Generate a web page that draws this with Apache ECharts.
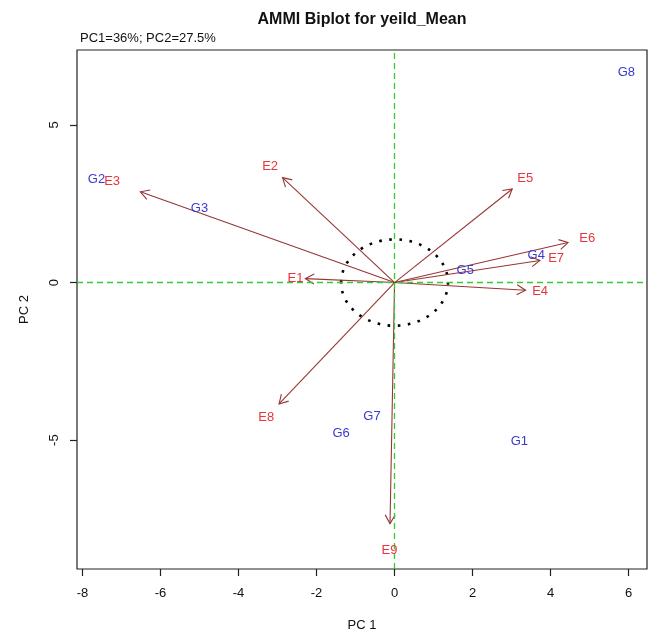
<!DOCTYPE html>
<html><head><meta charset="utf-8">
<script src="https://cdn.jsdelivr.net/npm/echarts@6/dist/echarts.min.js"></script>
<style>html,body{margin:0;padding:0;background:#fff}#c{width:649px;height:637px}</style>
</head><body><div id="c"></div>
<script>
// Environment scores (label positions) on PC1 / PC2
const envNames = ['E1','E2','E3','E4','E5','E6','E7','E8','E9'];
const envPC1 = [-2.54, -3.19, -7.24, 3.73, 3.35, 4.94, 4.14, -3.29, -0.13];
const envPC2 = [0.14, 3.70, 3.20, -0.27, 3.30, 1.41, 0.78, -4.28, -8.50];
// Genotype scores on PC1 / PC2
const genNames = ['G1','G2','G3','G4','G5','G6','G7','G8'];
const genPC1 = [3.20, -7.64, -5.00, 3.63, 1.81, -1.37, -0.58, 5.94];
const genPC2 = [-5.05, 3.26, 2.36, 0.86, 0.37, -4.79, -4.26, 6.67];
// Axis ticks
const xTicks = [-8, -6, -4, -2, 0, 2, 4, 6];
const yTicks = [-5, 0, 5];
const circleRadius = [1.37];

const FONT = '"Liberation Sans", Arial, sans-serif';
const ARROW_SCALE = 0.9;
const arrowColor = '#983535';
const envColor = '#e6353c';
const genColor = '#3a3ad0';

const chart = echarts.init(document.getElementById('c'), null, {renderer: 'canvas'});

function labelItem(names, color) {
  return function (params, api) {
    const c = api.coord([api.value(0), api.value(1)]);
    return {
      type: 'text', x: c[0], y: c[1],
      style: {text: names[params.dataIndex], fill: color, font: '13px ' + FONT, align: 'center', verticalAlign: 'middle'}
    };
  };
}

const option = {
  backgroundColor: '#fff',
  animation: false,
  graphic: [
    {type: 'text', x: 362, y: 20, style: {text: 'AMMI Biplot for yeild_Mean', font: 'bold 16px ' + FONT, fill: '#111', align: 'center', verticalAlign: 'middle'}},
    {type: 'text', x: 80, y: 38, style: {text: 'PC1=36%; PC2=27.5%', font: '13px ' + FONT, fill: '#111', align: 'left', verticalAlign: 'middle'}}
  ],
  grid: {left: 77, right: 2, top: 50, bottom: 65, show: true, borderColor: '#222', borderWidth: 1.2, backgroundColor: 'transparent'},
  xAxis: {
    type: 'value', min: -8.14, max: 6.47,
    name: 'PC 1', nameLocation: 'middle', nameGap: 50,
    nameTextStyle: {fontFamily: FONT, fontSize: 13, color: '#111'},
    axisLine: {show: false, onZero: false},
    axisTick: {show: true, length: 7, inside: false, customValues: xTicks, lineStyle: {color: '#222', width: 1.2}},
    axisLabel: {customValues: xTicks, margin: 18, fontFamily: FONT, fontSize: 13, color: '#111'},
    splitLine: {show: false}
  },
  yAxis: {
    type: 'value', min: -9.09, max: 7.38,
    name: 'PC 2', nameLocation: 'middle', nameGap: 46,
    nameTextStyle: {fontFamily: FONT, fontSize: 13, color: '#111'},
    axisLine: {show: false, onZero: false},
    axisTick: {show: true, length: 7, inside: false, customValues: yTicks, lineStyle: {color: '#222', width: 1.2}},
    axisLabel: {customValues: yTicks, rotate: 90, margin: 16, fontFamily: FONT, fontSize: 13, color: '#111'},
    splitLine: {show: false}
  },
  series: [
    {
      type: 'scatter', data: [], silent: true,
      markLine: {
        silent: true, symbol: ['none', 'none'], label: {show: false},
        lineStyle: {color: '#33cc33', type: [6, 4], width: 1.3},
        data: [{xAxis: 0}, {yAxis: 0}]
      }
    },
    {
      type: 'custom', silent: true, z: 3,
      data: circleRadius.map(r => [0, 0, r]),
      encode: {x: 0, y: 1},
      renderItem: function (params, api) {
        const c = api.coord([api.value(0), api.value(1)]);
        const r = api.value(2);
        const rx = api.size([r, 0])[0];
        const ry = api.size([0, r])[1];
        return {type: 'ellipse', shape: {cx: c[0], cy: c[1], rx: rx, ry: ry},
          style: {stroke: '#000', fill: 'none', lineWidth: 2.6, lineDash: [2.6, 7.5]}};
      }
    },
    {
      type: 'custom', silent: true, z: 4,
      data: envPC1.map((v, i) => [v, envPC2[i]]),
      encode: {x: 0, y: 1},
      renderItem: function (params, api) {
        const o = api.coord([0, 0]);
        const t = api.coord([api.value(0) * ARROW_SCALE, api.value(1) * ARROW_SCALE]);
        const ang = Math.atan2(t[1] - o[1], t[0] - o[0]);
        const L = 10, a = Math.PI / 6;
        const p1 = [t[0] - L * Math.cos(ang - a), t[1] - L * Math.sin(ang - a)];
        const p2 = [t[0] - L * Math.cos(ang + a), t[1] - L * Math.sin(ang + a)];
        return {type: 'group', children: [
          {type: 'line', shape: {x1: o[0], y1: o[1], x2: t[0], y2: t[1]}, style: {stroke: arrowColor, lineWidth: 1.1}},
          {type: 'polyline', shape: {points: [p1, t, p2]}, style: {stroke: arrowColor, fill: 'none', lineWidth: 1.1}}
        ]};
      }
    },
    {
      type: 'custom', silent: true, z: 5,
      data: envPC1.map((v, i) => [v, envPC2[i]]),
      encode: {x: 0, y: 1},
      renderItem: labelItem(envNames, envColor)
    },
    {
      type: 'custom', silent: true, z: 6,
      data: genPC1.map((v, i) => [v, genPC2[i]]),
      encode: {x: 0, y: 1},
      renderItem: labelItem(genNames, genColor)
    }
  ]
};
chart.setOption(option);
</script>
</body></html>
